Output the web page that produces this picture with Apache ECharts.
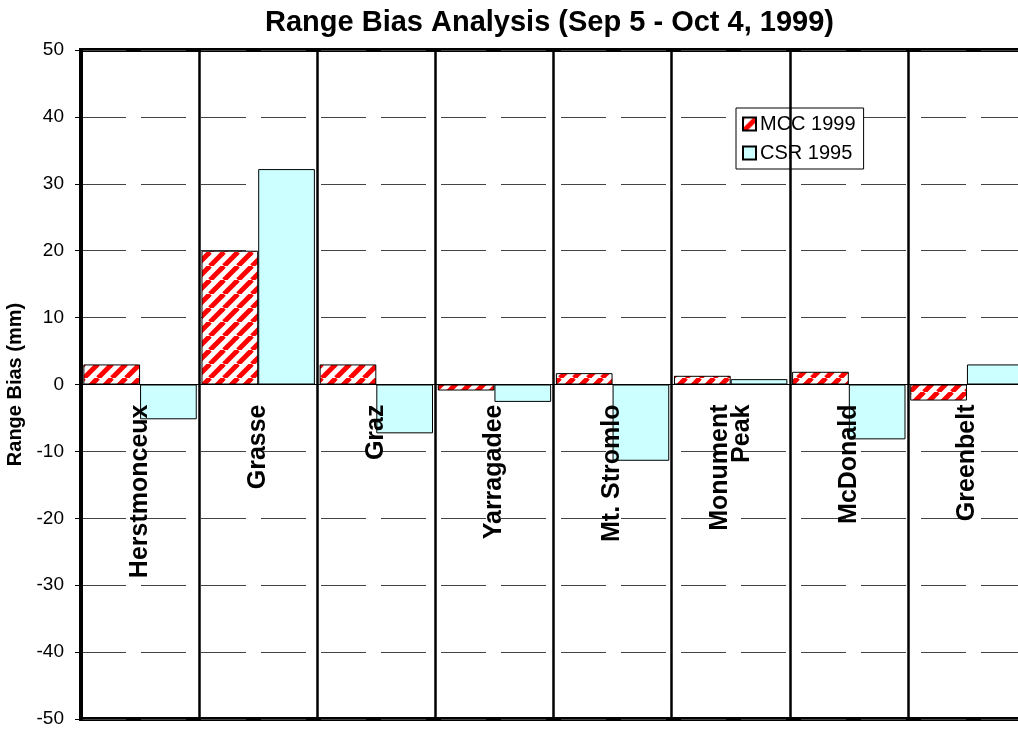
<!DOCTYPE html>
<html>
<head>
<meta charset="utf-8">
<script src="https://cdn.jsdelivr.net/npm/echarts@6/dist/echarts.min.js"></script>
<style>
  html, body { margin: 0; padding: 0; background: #fff; }
  #chart { width: 1018px; height: 731px; }
</style>
</head>
<body>
<div id="chart"></div>
<script>
// stations + range bias values (mm)
const stations = ['Herstmonceux', 'Grasse', 'Graz', 'Yarragadee', 'Mt. Stromlo', 'Monument\nPeak', 'McDonald', 'Greenbelt'];
const mcc1999 = [3.0, 20.0, 3.0, -0.9, 1.7, 1.3, 1.9, -2.4];
const csr1995 = [-5.2, 32.2, -7.3, -2.6, -11.4, 0.8, -8.2, 3.0];
const yTicks = [-50, -40, -30, -20, -10, 0, 10, 20, 30, 40, 50];

// red / white diagonal hatch for the MCC bars
function makeHatch() {
  const c = document.createElement('canvas');
  c.width = 14;
  c.height = 14;
  const ctx = c.getContext('2d');
  ctx.fillStyle = '#fff';
  ctx.fillRect(0, 0, 14, 14);
  ctx.strokeStyle = '#ff0000';
  ctx.lineWidth = 5;
  for (let k = -1; k <= 1; k++) {
    ctx.beginPath();
    ctx.moveTo(k * 14, 14);
    ctx.lineTo(k * 14 + 14, 0);
    ctx.stroke();
  }
  return c;
}

const font = "'Liberation Sans', Arial, sans-serif";
const gridTop = 50, gridBottom = 12;
const plotH = 731 - gridTop - gridBottom;
const chart = echarts.init(document.getElementById('chart'));

const option = {
  animation: false,
  title: {
    text: 'Range Bias Analysis (Sep 5 - Oct 4, 1999)',
    left: 260,
    top: 3,
    textStyle: { fontSize: 29, fontWeight: 'bold', color: '#000', fontFamily: font }
  },
  legend: {
    orient: 'vertical',
    left: 736,
    top: 108,
    backgroundColor: '#fff',
    borderColor: '#000',
    borderWidth: 1,
    borderRadius: 0,
    padding: [6, 8, 6, 6],
    itemWidth: 13,
    itemHeight: 13,
    itemGap: 9,
    icon: 'rect',
    textStyle: { fontSize: 20, color: '#000', fontFamily: font, padding: [0, 0, 0, -1] },
    data: ['MCC 1999', 'CSR 1995']
  },
  grid: {
    left: 81,
    top: gridTop,
    right: -8,
    bottom: gridBottom,
    outerBoundsMode: 'none',
    show: true,
    borderColor: '#000',
    borderWidth: 4
  },
  xAxis: {
    type: 'category',
    data: stations,
    z: 5,
    position: 'bottom',
    offset: -plotH / 2,
    axisLine: { onZero: false, lineStyle: { color: '#000', width: 1 } },
    axisTick: { show: false },
    axisLabel: {
      rotate: 90,
      margin: 20,
      interval: 0,
      fontSize: 25,
      fontWeight: 'bold',
      color: '#000',
      fontFamily: font,
      lineHeight: 22
    },
    splitLine: {
      show: true,
      interval: 0,
      lineStyle: { color: '#000', width: 2.5 }
    }
  },
  yAxis: {
    type: 'value',
    min: yTicks[0],
    max: yTicks[yTicks.length - 1],
    interval: 10,
    name: 'Range Bias (mm)',
    nameLocation: 'middle',
    nameGap: 54,
    nameTextStyle: { fontSize: 20, fontWeight: 'bold', color: '#000', fontFamily: font },
    axisLine: { show: true, lineStyle: { color: '#000', width: 4 } },
    axisTick: { show: true, length: 6, lineStyle: { color: '#000', width: 1 } },
    axisLabel: { fontSize: 19, color: '#000', fontFamily: font, margin: 17 },
    splitLine: {
      show: true,
      lineStyle: { color: '#444', width: 1, type: [45, 15] }
    }
  },
  series: [
    {
      name: 'MCC 1999',
      type: 'bar',
      data: mcc1999,
      barGap: '0%',
      barCategoryGap: '4%',
      itemStyle: {
        color: { image: makeHatch(), repeat: 'repeat' },
        borderColor: '#000',
        borderWidth: 1
      }
    },
    {
      name: 'CSR 1995',
      type: 'bar',
      data: csr1995,
      barGap: '0%',
      barCategoryGap: '4%',
      itemStyle: {
        color: '#ccffff',
        borderColor: '#000',
        borderWidth: 1
      }
    }
  ]
};

chart.setOption(option);
</script>
</body>
</html>
